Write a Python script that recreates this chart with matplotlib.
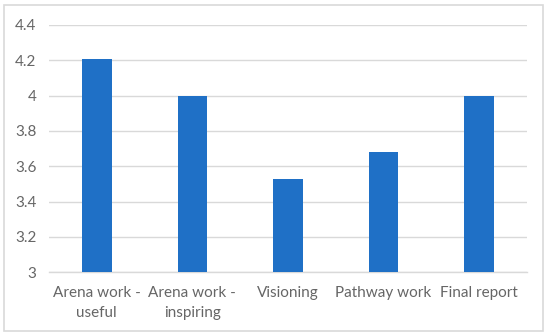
import matplotlib

matplotlib.use("Agg")
import matplotlib.pyplot as plt
from matplotlib.patches import Rectangle

categories = ["Arena work -\nuseful", "Arena work -\ninspiring", "Visioning",
              "Pathway work", "Final report"]
scores = [4.21, 4.00, 3.53, 3.68, 4.00]
y_ticks = [3, 3.2, 3.4, 3.6, 3.8, 4, 4.2, 4.4]
y_labels = ["3", "3.2", "3.4", "3.6", "3.8", "4", "4.2", "4.4"]

plt.rcParams["font.family"] = ["Lato", "DejaVu Sans"]
text_col = "#666666"
grid_col = "#D9D9D9"

fig = plt.figure(figsize=(5.5, 3.36), dpi=100)
fig.patches.append(Rectangle((0.0073, 0.0149), 0.98, 0.970, transform=fig.transFigure,
                             fill=False, edgecolor=grid_col, linewidth=1.2))
ax = fig.add_axes([0.089, 0.190, 0.869, 0.7356])

x = range(len(categories))
ax.bar(x, scores, width=0.31, color="#1F70C6", zorder=3)
ax.set_xlim(-0.5, len(categories) - 0.5)
ax.set_ylim(3, 4.4)
ax.set_yticks(y_ticks, y_labels)
ax.set_xticks(list(x), categories)

ax.grid(axis="y", color=grid_col, linewidth=1.0, zorder=0)
for s in ["top", "right", "left"]:
    ax.spines[s].set_visible(False)
ax.spines["bottom"].set_color(grid_col)
ax.spines["bottom"].set_linewidth(1.0)
ax.tick_params(axis="both", length=0, colors=text_col, labelsize=11)
ax.tick_params(axis="y", pad=9)
ax.tick_params(axis="x", pad=10)
for lab in ax.get_xticklabels():
    lab.set_linespacing(1.5)

fig.savefig("out.png", dpi=100)
